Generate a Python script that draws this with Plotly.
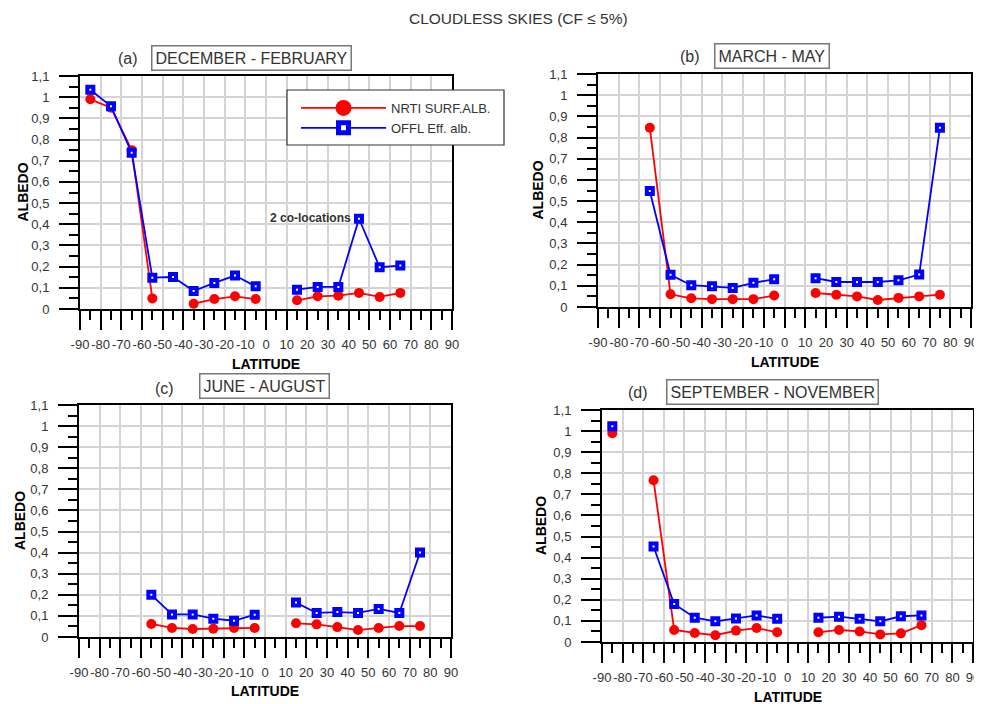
import plotly.graph_objects as go

# page is shown with an 8px body margin: figure is sized/placed to compensate
OFF = 8
W, H = 982 - OFF, 704 - OFF
N = None

# latitude bin centres
lat = [-85, -75, -65, -55, -45, -35, -25, -15, -5, 5, 15, 25, 35, 45, 55, 65, 75]

djf_nrti = [0.99, 0.95, 0.75, 0.05, N, 0.025, 0.047, 0.06, 0.047, N, 0.041, 0.06, 0.063, 0.076, 0.057, 0.076, N]
djf_offl = [1.035, 0.957, 0.738, 0.148, 0.151, 0.085, 0.123, 0.158, 0.107, N, 0.091, 0.104, 0.104, 0.426, 0.197, 0.205, N]
mam_nrti = [N, N, 0.846, 0.06, 0.041, 0.037, 0.037, 0.037, 0.054, N, 0.066, 0.058, 0.05, 0.033, 0.043, 0.05, 0.058]
mam_offl = [N, N, 0.548, 0.152, 0.103, 0.098, 0.09, 0.114, 0.131, N, 0.136, 0.118, 0.118, 0.118, 0.126, 0.153, 0.846]
jja_nrti = [N, N, N, 0.062, 0.043, 0.038, 0.039, 0.043, 0.043, N, 0.065, 0.06, 0.047, 0.033, 0.043, 0.052, 0.052]
jja_offl = [N, N, N, 0.2, 0.107, 0.107, 0.087, 0.077, 0.106, N, 0.163, 0.114, 0.118, 0.114, 0.133, 0.114, 0.401]
son_nrti = [0.99, N, 0.767, 0.057, 0.043, 0.032, 0.054, 0.066, 0.046, N, 0.046, 0.057, 0.05, 0.036, 0.041, 0.08, N]
son_offl = [1.023, N, 0.453, 0.18, 0.115, 0.098, 0.112, 0.126, 0.11, N, 0.115, 0.12, 0.11, 0.098, 0.122, 0.126, N]

x_ticks = [-90, -80, -70, -60, -50, -40, -30, -20, -10, 0, 10, 20, 30, 40, 50, 60, 70, 80, 90]
x_labels = ["-90", "-80", "-70", "-60", "-50", "-40", "-30", "-20", "-10", "0",
            "10", "20", "30", "40", "50", "60", "70", "80", "90"]
x_minor = [-85, -75, -65, -55, -45, -35, -25, -15, -5, 5, 15, 25, 35, 45, 55, 65, 75, 85]
y_ticks = [0, 0.1, 0.2, 0.3, 0.4, 0.5, 0.6, 0.7, 0.8, 0.9, 1.0, 1.1]
y_labels = ["0", "0,1", "0,2", "0,3", "0,4", "0,5", "0,6", "0,7", "0,8", "0,9", "1", "1,1"]
y_minor = [0.05, 0.15, 0.25, 0.35, 0.45, 0.55, 0.65, 0.75, 0.85, 0.95, 1.05]

series_names = ["NRTI SURF.ALB.", "OFFL Eff. alb."]
panel_tags = ["(a)", "(b)", "(c)", "(d)"]
panel_titles = ["DECEMBER - FEBRUARY", "MARCH - MAY", "JUNE - AUGUST", "SEPTEMBER - NOVEMBER"]
panel_data = [(djf_nrti, djf_offl), (mam_nrti, mam_offl), (jja_nrti, jja_offl), (son_nrti, son_offl)]

# plot areas in screen pixels: left, right, top, bottom
boxes = [(80, 452, 76, 309), (598, 971, 74, 307), (79, 451, 405, 637), (602, 973, 410, 642)]
tag_pos = [(128, 58), (690, 56), (164, 388), (638, 393)]
title_pos = [(251, 58), (772, 56), (264, 386), (772, 392)]
ylab_x = [22, 538, 20, 541]
xlab_y = [364, 362, 691, 697]

RED = "#ff0000"
BLUE = "#0000ff"
FONT = "Liberation Sans, Arial, sans-serif"
TXT = "#333333"

fig = go.Figure()
layout = {}
annotations = []


def fx(px):
    return (px - OFF) / W


def fy(py):
    return 1 - (py - OFF) / H


for i, ((nrti, offl), box) in enumerate(zip(panel_data, boxes)):
    sfx = "" if i == 0 else str(i + 1)
    xa, ya = "x" + sfx, "y" + sfx
    fig.add_trace(go.Scatter(
        x=lat, y=nrti, xaxis=xa, yaxis=ya, mode="lines+markers",
        line=dict(color=RED, width=1.8), connectgaps=False,
        marker=dict(symbol="circle", size=10, color=RED),
        showlegend=False, name=series_names[0]))
    fig.add_trace(go.Scatter(
        x=lat, y=offl, xaxis=xa, yaxis=ya, mode="lines+markers",
        line=dict(color=BLUE, width=1.8), connectgaps=False,
        marker=dict(symbol="square", size=6, color="white",
                    line=dict(color=BLUE, width=4)),
        showlegend=False, name=series_names[1]))
    l, r, t, b = box
    layout["xaxis" + sfx] = dict(
        domain=[fx(l), fx(r)], anchor=ya, range=[-90, 90], automargin=False,
        tickmode="array", tickvals=x_ticks, ticktext=x_labels, tickangle=0,
        ticks="outside", ticklen=19, tickwidth=2, tickcolor="black",
        ticklabelstandoff=3, ticklabeloverflow="allow",
        minor=dict(tickmode="array", tickvals=x_minor, ticks="outside",
                   ticklen=9, tickwidth=2, tickcolor="black", showgrid=False),
        showline=True, linecolor="black", linewidth=2, mirror=True,
        showgrid=True, gridcolor="#d4d4d4", gridwidth=1.5, zeroline=False,
        tickfont=dict(size=13, color=TXT, family=FONT))
    layout["yaxis" + sfx] = dict(
        domain=[fy(b), fy(t)], anchor=xa, range=[0, 1.1], automargin=False,
        tickmode="array", tickvals=y_ticks, ticktext=y_labels, tickangle=0,
        ticks="outside", ticklen=19, tickwidth=2, tickcolor="black",
        ticklabelstandoff=7, ticklabeloverflow="allow",
        minor=dict(tickmode="array", tickvals=y_minor, ticks="outside",
                   ticklen=9, tickwidth=2, tickcolor="black", showgrid=False),
        showline=True, linecolor="black", linewidth=2, mirror=True,
        showgrid=True, gridcolor="#d4d4d4", gridwidth=1.5, zeroline=False,
        tickfont=dict(size=13, color=TXT, family=FONT))
    # axis titles
    annotations.append(dict(x=fx(ylab_x[i]), y=fy((t + b) / 2), xref="paper", yref="paper",
                            text="<b>ALBEDO</b>", textangle=-90, showarrow=False,
                            xanchor="center", yanchor="middle",
                            font=dict(size=14, color="black", family=FONT)))
    annotations.append(dict(x=fx((l + r) / 2), y=fy(xlab_y[i]), xref="paper", yref="paper",
                            text="<b>LATITUDE</b>", showarrow=False,
                            xanchor="center", yanchor="middle",
                            font=dict(size=14, color="black", family=FONT)))
    tx, ty = tag_pos[i]
    annotations.append(dict(x=fx(tx), y=fy(ty), xref="paper", yref="paper",
                            text=panel_tags[i], showarrow=False,
                            xanchor="center", yanchor="middle",
                            font=dict(size=16, color=TXT, family=FONT)))
    bx, by = title_pos[i]
    annotations.append(dict(x=fx(bx), y=fy(by), xref="paper", yref="paper",
                            text=panel_titles[i], showarrow=False,
                            xanchor="center", yanchor="middle",
                            bordercolor="#777777", borderwidth=1.5, borderpad=3,
                            bgcolor="white",
                            font=dict(size=16, color=TXT, family=FONT)))

# legend entries
fig.add_trace(go.Scatter(x=[None], y=[None], mode="lines+markers", name=series_names[0],
                         line=dict(color=RED, width=1.8),
                         marker=dict(symbol="circle", size=16, color=RED)))
fig.add_trace(go.Scatter(x=[None], y=[None], mode="lines+markers", name=series_names[1],
                         line=dict(color=BLUE, width=1.8),
                         marker=dict(symbol="square", size=10, color="white",
                                     line=dict(color=BLUE, width=6))))

annotations.append(dict(x=42, y=0.43, xref="x", yref="y", xanchor="right", yanchor="middle",
                        text="<b>2 co-locations</b>", showarrow=False,
                        font=dict(size=12, color=TXT, family=FONT)))
annotations.append(dict(x=fx(518), y=fy(18), xref="paper", yref="paper",
                        xanchor="center", yanchor="middle",
                        text="CLOUDLESS SKIES (CF ≤ 5%)", showarrow=False,
                        font=dict(size=15.5, color=TXT, family=FONT)))

# legend frame
shapes = [dict(type="rect", xref="paper", yref="paper", layer="above",
               x0=fx(287), x1=fx(504), y0=fy(145), y1=fy(90),
               fillcolor="white", line=dict(color="#333333", width=1.2))]

fig.update_layout(
    width=W, height=H, margin=dict(l=0, r=0, t=0, b=0, pad=0, autoexpand=False),
    paper_bgcolor="white", plot_bgcolor="white",
    font=dict(family=FONT, color=TXT),
    annotations=annotations, shapes=shapes,
    legend=dict(x=fx(296), y=fy(93), xanchor="left", yanchor="top",
                bgcolor="rgba(0,0,0,0)", borderwidth=0,
                font=dict(size=13, color=TXT, family=FONT),
                itemwidth=85, tracegroupgap=0),
    **layout)

fig.write_html("out.html")
